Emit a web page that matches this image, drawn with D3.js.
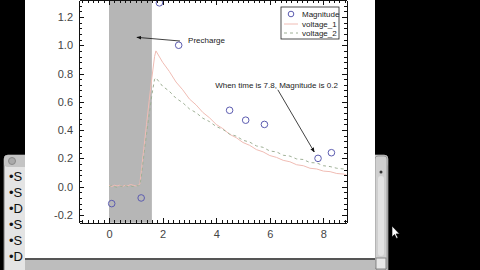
<!DOCTYPE html>
<html lang="en">
<head>
<meta charset="utf-8">
<title>Precharge plot</title>
<script src="https://d3js.org/d3.v7.min.js"></script>
<style>
body{
  margin: 0;
  background: #000;
}
svg text{
  font-family: "Liberation Sans", Arial, sans-serif;
}
.axis path, .axis line{
  fill: none;
  stroke: #111;
  shape-rendering: crispEdges;
}
.axis text{
  font-size: 11px;
  fill: #444;
}
</style>
</head>
<body>
<svg id="chart" width="480" height="270"></svg>
<script>
// data
var magTime  = [0.1, 1.2, 1.88, 2.6, 4.5, 5.1, 5.8, 7.8, 8.3];
var magValue = [-0.12, -0.08, 1.30, 1.00, 0.54, 0.47, 0.44, 0.20, 0.24];

var vTime = [0, 0.1, 0.2, 0.3, 0.4, 0.5, 0.6, 0.7, 0.8, 0.9, 1.0, 1.1, 1.15, 1.2,
  1.3, 1.4, 1.5, 1.6, 1.7, 1.75,
  2.0, 2.25, 2.5, 2.75, 3.0, 3.25, 3.5, 3.75, 4.0, 4.25, 4.5, 4.75, 5.0, 5.25,
  5.5, 5.75, 6.0, 6.25, 6.5, 6.75, 7.0, 7.25, 7.5, 7.75, 8.0, 8.25, 8.5, 8.75, 8.87];
var voltage1 = [0.01, 0.00, 0.01, 0.005, 0.01, 0.0, 0.01, 0.005, 0.015, 0.01, 0.005, 0.01, 0.02, 0.10,
  0.27, 0.44, 0.61, 0.77, 0.92, 0.96,
  0.88, 0.815, 0.74, 0.685, 0.62, 0.578, 0.525, 0.487, 0.44, 0.41, 0.37, 0.346, 0.312, 0.292,
  0.262, 0.246, 0.22, 0.207, 0.186, 0.176, 0.155, 0.148, 0.13, 0.125, 0.11, 0.106, 0.093, 0.089, 0.083];
var voltage2 = [0.0, 0.01, 0.0, -0.005, 0.005, 0.0, 0.01, 0.0, 0.005, 0.0, 0.01, 0.005, 0.015, 0.06,
  0.22, 0.37, 0.51, 0.65, 0.76, 0.77,
  0.71, 0.675, 0.625, 0.594, 0.55, 0.523, 0.484, 0.46, 0.425, 0.405, 0.372, 0.357, 0.328, 0.315,
  0.288, 0.278, 0.252, 0.246, 0.222, 0.216, 0.196, 0.192, 0.17, 0.168, 0.148, 0.142, 0.13, 0.125, 0.122];

var xTicks = [0, 2, 4, 6, 8];
var yTicks = [-0.2, 0.0, 0.2, 0.4, 0.6, 0.8, 1.0, 1.2];
var precharge = [0, 1.6];

var seriesNames = ['Magnitude', 'voltage_1', 'voltage_2'];
var terminalLines = ['\u2022S', '\u2022S', '\u2022D', '\u2022S', '\u2022S', '\u2022D'];

var svg = d3.select('#chart');

// desktop behind the plot window
var term = svg.append('g');
term.append('rect').attr('x', 4).attr('y', 155).attr('width', 384).attr('height', 120)
  .attr('rx', 4).attr('fill', '#e4e4e4').attr('stroke', '#777');
term.append('rect').attr('x', 4).attr('y', 155).attr('width', 384).attr('height', 12)
  .attr('rx', 4).attr('fill', '#c4c4c4');
term.append('circle').attr('cx', 12).attr('cy', 161).attr('r', 3.5)
  .attr('fill', '#aaa').attr('stroke', '#888');
term.selectAll('.tl')
  .data(terminalLines)
  .enter().append('text')
  .attr('x', 9)
  .attr('y', function(d, i) { return 181 + i * 16; })
  .attr('font-size', '13px')
  .attr('fill', '#111')
  .text(function(d) { return d; });
// scrollbar
term.append('rect').attr('x', 375).attr('y', 156).attr('width', 12).attr('height', 114)
  .attr('rx', 3).attr('fill', '#cfcfcf').attr('stroke', '#999');
term.append('rect').attr('x', 378).attr('y', 176).attr('width', 6).attr('height', 80)
  .attr('rx', 3).attr('fill', '#e2e2e2');
term.append('circle').attr('cx', 381).attr('cy', 172).attr('r', 1.5).attr('fill', '#333');
term.append('rect').attr('x', 376).attr('y', 258).attr('width', 10).attr('height', 11)
  .attr('fill', '#e8e8e8').attr('stroke', '#888');
term.append('rect').attr('x', 25).attr('y', 258).attr('width', 350).attr('height', 12)
  .attr('fill', '#bdbdbd');
term.append('rect').attr('x', 25).attr('y', 258).attr('width', 350).attr('height', 2)
  .attr('fill', '#555');

// plot window
svg.append('rect').attr('x', 25).attr('y', -5).attr('width', 350).attr('height', 263)
  .attr('fill', '#fff');

// mouse pointer
svg.append('path')
  .attr('d', 'M392,226 l0,11 l2.5,-2.5 l2,4 l1.5,-0.8 l-2,-3.8 l3.5,0 z')
  .attr('fill', '#fff').attr('stroke', '#000').attr('stroke-width', 0.6);

var pLeft = 79, pRight = 346.7, pTop = 0, pBottom = 222.7;

var x = d3.scaleLinear().domain([-1.12, 8.87]).range([pLeft, pRight]);
var y = d3.scaleLinear().domain([-0.255, 1.32]).range([pBottom, pTop]);

var minorX = d3.range(-1.0, 8.9, 0.2).map(function(d) { return +d.toFixed(1); });
var minorY = d3.range(-0.24, 1.32, 0.04).map(function(d) { return +d.toFixed(2); });

// shaded precharge region
svg.append('rect')
  .attr('x', x(precharge[0]))
  .attr('y', pTop)
  .attr('width', x(precharge[1]) - x(precharge[0]))
  .attr('height', pBottom - pTop)
  .attr('fill', '#b6b6b6');

svg.append('defs').append('clipPath').attr('id', 'clip')
  .append('rect').attr('x', pLeft).attr('y', pTop)
  .attr('width', pRight - pLeft).attr('height', pBottom - pTop);

var line1 = d3.line()
  .x(function(d, i) { return x(vTime[i]); })
  .y(function(d) { return y(d); });

svg.append('path')
  .datum(voltage1)
  .attr('clip-path', 'url(#clip)')
  .attr('fill', 'none')
  .attr('stroke', '#f0bcb4')
  .attr('stroke-width', 1)
  .attr('d', line1);

svg.append('path')
  .datum(voltage2)
  .attr('clip-path', 'url(#clip)')
  .attr('fill', 'none')
  .attr('stroke', '#9fb096')
  .attr('stroke-width', 1)
  .attr('stroke-dasharray', '3,3')
  .attr('d', line1);

svg.selectAll('.mag')
  .data(magValue)
  .enter().append('circle')
  .attr('class', 'mag')
  .attr('cx', function(d, i) { return x(magTime[i]); })
  .attr('cy', function(d) { return y(d); })
  .attr('r', 3.3)
  .attr('fill', 'none')
  .attr('stroke', '#5c5cb0')
  .attr('stroke-width', 1);

// axes, ticks pointing inward like IDL
var fmt = function(d) { return d.toFixed(1); };

function addAxis(axis, tx, ty, vals, size, labels) {
  var a = axis.tickValues(vals).tickSizeInner(size).tickSizeOuter(0).tickPadding(6);
  if (!labels) a.tickFormat('');
  else a.tickFormat(fmt);
  svg.append('g')
    .attr('class', 'axis')
    .attr('transform', 'translate(' + tx + ',' + ty + ')')
    .call(a);
}

addAxis(d3.axisBottom(x), 0, pBottom, minorX, -2.5, false);
addAxis(d3.axisBottom(x), 0, pBottom, xTicks, -5, false);
svg.append('g')
  .attr('class', 'axis')
  .attr('transform', 'translate(0,' + pBottom + ')')
  .call(d3.axisBottom(x).tickValues(xTicks).tickSize(0).tickPadding(8)
    .tickFormat(function(d) { return d; }))
  .select('.domain').remove();

addAxis(d3.axisTop(x), 0, pTop, minorX, -2.5, false);
addAxis(d3.axisTop(x), 0, pTop, xTicks, -5, false);

addAxis(d3.axisLeft(y), pLeft, 0, minorY, -2.5, false);
addAxis(d3.axisLeft(y), pLeft, 0, yTicks, -5, true);
addAxis(d3.axisRight(y), pRight, 0, minorY, -2.5, false);
addAxis(d3.axisRight(y), pRight, 0, yTicks, -5, false);

// annotations
svg.append('defs').append('marker')
  .attr('id', 'head')
  .attr('viewBox', '0 0 10 10')
  .attr('refX', 9).attr('refY', 5)
  .attr('markerWidth', 6).attr('markerHeight', 6)
  .attr('orient', 'auto')
  .append('path').attr('d', 'M0,1 L10,5 L0,9 z').attr('fill', '#111');

var notes = [
  {text: 'Precharge', tx: 2.95, ty: 1.015, from: [2.65, 1.03], to: [1.04, 1.056]},
  {text: 'When time is 7.8, Magnitude is 0.2', tx: 3.96, ty: 0.70, from: [6.3, 0.685], to: [7.66, 0.245]}
];

notes.forEach(function(n) {
  svg.append('line')
    .attr('x1', x(n.from[0])).attr('y1', y(n.from[1]))
    .attr('x2', x(n.to[0])).attr('y2', y(n.to[1]))
    .attr('stroke', '#111').attr('stroke-width', 0.8)
    .attr('marker-end', 'url(#head)');
  svg.append('text')
    .attr('x', x(n.tx)).attr('y', y(n.ty))
    .attr('font-size', '8px')
    .attr('fill', '#222')
    .text(n.text);
});

// legend
var lg = svg.append('g').attr('transform', 'translate(281,7)');
lg.append('rect').attr('width', 58).attr('height', 32)
  .attr('fill', '#fff').attr('stroke', '#222').attr('stroke-width', 0.8);
lg.append('circle').attr('cx', 10).attr('cy', 7).attr('r', 2.8)
  .attr('fill', 'none').attr('stroke', '#5c5cb0');
lg.append('line').attr('x1', 3).attr('x2', 17).attr('y1', 17).attr('y2', 17)
  .attr('stroke', '#f0bcb4');
lg.append('line').attr('x1', 3).attr('x2', 17).attr('y1', 26).attr('y2', 26)
  .attr('stroke', '#9fb096').attr('stroke-dasharray', '3,3');
lg.selectAll('.lt')
  .data(seriesNames)
  .enter().append('text')
  .attr('x', 21)
  .attr('y', function(d, i) { return 10 + i * 9.5; })
  .attr('font-size', '8px')
  .attr('fill', '#222')
  .text(function(d) { return d; });
</script>
</body>
</html>
